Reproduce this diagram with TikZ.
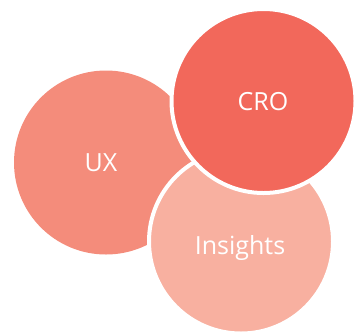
\documentclass[tikz,border=0pt]{standalone}
\usepackage{fontspec}
\setmainfont{Open Sans}
\definecolor{uxcol}{RGB}{244,140,123}
\definecolor{crocol}{RGB}{242,104,91}
\definecolor{inscol}{RGB}{248,176,160}
\begin{document}
\begin{tikzpicture}[x=1pt,y=-1pt,
  bubble/.style={circle,minimum size=184pt,inner sep=0pt,draw=white,line width=4pt},
  lbl/.style={text=white,font=\fontsize{25}{30}\selectfont,inner sep=0pt}]
\useasboundingbox (0,0) rectangle (363,333);
\node[bubble,fill=uxcol,draw=none] (ux) at (106,162.5) {};
\node[bubble,fill=inscol] (ins) at (241,241.5) {};
\node[bubble,fill=crocol] (cro) at (263.5,101) {};
\node[lbl] (uxt) at (101,163) {UX};
\node[lbl] (inst) at (240,248) {Insights};
\node[lbl] (crot) at (263,102) {CRO};
\end{tikzpicture}
\end{document}
